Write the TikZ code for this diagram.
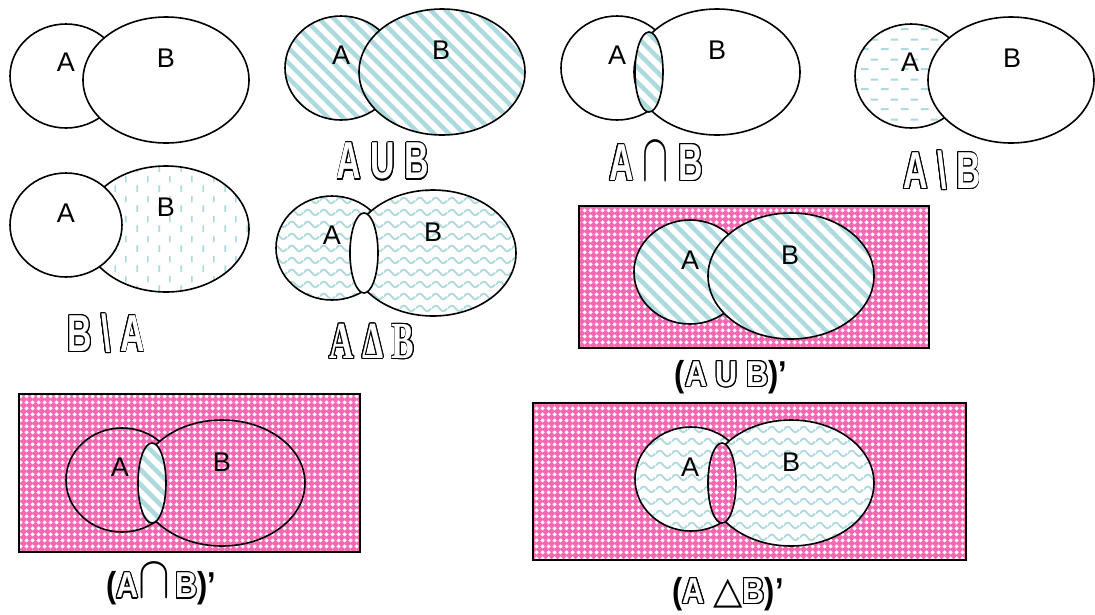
\documentclass[tikz,border=0pt]{standalone}
\usepackage{fontspec}
\setmainfont{Liberation Sans}
\newfontfamily\serifface{Liberation Serif}
\newfontfamily\symbface{DejaVu Sans}
\usepackage[copies]{contour}
\contourlength{1.3pt}
\usetikzlibrary{calc,patterns,patterns.meta}

\definecolor{mint}{RGB}{172,218,222}
\definecolor{rose}{RGB}{248,104,178}

\newcommand\archcap[2]{{\color{black}\scalebox{#1}[#2]{\fontsize{20}{20}\selectfont$\cap$}}}

% tiles
\pgfdeclarepattern{
  name=hdash,
  bottom left={\pgfpoint{0pt}{0pt}},
  top right={\pgfpoint{20pt}{20pt}},
  tile size={\pgfpoint{20pt}{20pt}},
  code={
    \pgfsetlinewidth{2pt}
    \pgfpathmoveto{\pgfpoint{1pt}{5pt}}\pgfpathlineto{\pgfpoint{9pt}{5pt}}
    \pgfpathmoveto{\pgfpoint{11pt}{15pt}}\pgfpathlineto{\pgfpoint{19pt}{15pt}}
    \pgfusepath{stroke}
  }
}
\pgfdeclarepattern{
  name=vdash,
  bottom left={\pgfpoint{0pt}{0pt}},
  top right={\pgfpoint{22pt}{20pt}},
  tile size={\pgfpoint{22pt}{20pt}},
  code={
    \pgfsetlinewidth{1.7pt}
    \pgfpathmoveto{\pgfpoint{5.5pt}{2pt}}\pgfpathlineto{\pgfpoint{5.5pt}{9pt}}
    \pgfpathmoveto{\pgfpoint{16.5pt}{12pt}}\pgfpathlineto{\pgfpoint{16.5pt}{19pt}}
    \pgfusepath{stroke}
  }
}
\pgfdeclarepattern{
  name=waves,
  bottom left={\pgfpoint{0pt}{0pt}},
  top right={\pgfpoint{16pt}{12pt}},
  tile size={\pgfpoint{16pt}{12pt}},
  code={
    \pgfsetlinewidth{1.9pt}
    \pgfpathmoveto{\pgfpoint{0pt}{6pt}}
    \pgfpathcurveto{\pgfpoint{2.7pt}{10pt}}{\pgfpoint{5.3pt}{10pt}}{\pgfpoint{8pt}{6pt}}
    \pgfpathcurveto{\pgfpoint{10.7pt}{2pt}}{\pgfpoint{13.3pt}{2pt}}{\pgfpoint{16pt}{6pt}}
    \pgfusepath{stroke}
  }
}
\pgfdeclarepattern{
  name=lattice,
  bottom left={\pgfpoint{0pt}{0pt}},
  top right={\pgfpoint{6pt}{6pt}},
  tile size={\pgfpoint{6pt}{6pt}},
  code={
    \pgfpathmoveto{\pgfpoint{3pt}{0.5pt}}
    \pgfpathlineto{\pgfpoint{5.5pt}{3pt}}
    \pgfpathlineto{\pgfpoint{3pt}{5.5pt}}
    \pgfpathlineto{\pgfpoint{0.5pt}{3pt}}
    \pgfpathclose
    \pgfusepath{fill}
  }
}

\begin{document}
\begin{tikzpicture}[x=1pt, y=-1pt,
    setA/.style={x radius=56, y radius=52},
    setB/.style={x radius=83, y radius=63},
    lens/.style={x radius=14, y radius=40},
    rim/.style={draw=black, line width=1.6},
    blank/.style={rim, fill=white},
    striped/.style={rim, preaction={fill=white}, pattern={Lines[angle=-45,distance=10.6pt,line width=4.5pt]}, pattern color=mint},
    hdashed/.style={rim, preaction={fill=white}, pattern=hdash, pattern color=mint},
    vdashed/.style={rim, preaction={fill=white}, pattern=vdash, pattern color=mint},
    wavy/.style={rim, preaction={fill=white}, pattern=waves, pattern color=mint},
    pinky/.style={rim, preaction={fill=rose}, pattern=lattice, pattern color=white},
    letter/.style={inner sep=0, font=\fontsize{27}{27}\selectfont},
    title/.style={inner sep=0, xscale=0.65, text=white, font=\bfseries\fontsize{52}{52}\selectfont},
    ctitle/.style={inner sep=0, xscale=0.85, text=white, font=\bfseries\fontsize{36}{36}\selectfont}]
    \useasboundingbox (0,0) rectangle (1095,614);
    % A, B
    \path[blank] (66,76) ellipse[setA];
    \path[blank] (166,80) ellipse[setB];
    \node[letter] (a1) at (66,62) {A};
    \node[letter] (b1) at (166,58) {B};
    % A union B
    \path[striped] (341,68) ellipse[setA];
    \path[striped] (442,72) ellipse[setB];
    \node[letter] (a2) at (341,55) {A};
    \node[letter] (b2) at (441,50) {B};
    \node[title] (t2) at (383,162) {\contour{black}{A U B}};
    % A cap B
    \path[blank] (617,68) ellipse[setA];
    \path[blank] (717,72) ellipse[setB];
    \path[striped] (649,72) ellipse[lens];
    \node[letter] (a3) at (617,55) {A};
    \node[letter] (b3) at (717,50) {B};
    \node[title] (t3) at (656,162) {\contour{black}{A} \archcap{2.9}{3.3} \contour{black}{B}};
    % A minus B
    \path[hdashed] (911,76) ellipse[setA];
    \path[blank] (1011,80) ellipse[setB];
    \node[letter] (a4) at (910,62) {A};
    \node[letter] (b4) at (1012,58) {B};
    \node[title] (t4) at (942,171) {\contour{black}{A \textbackslash\ B}};
    % B minus A
    \path[vdashed] (166,229) ellipse[setB];
    \path[blank] (66,225) ellipse[setA];
    \node[letter] (a5) at (66,213) {A};
    \node[letter] (b5) at (166,207) {B};
    \node[title] (t5) at (106,334) {\contour{black}{B \textbackslash\ A}};
    % symmetric difference
    \path[wavy] (332,248) ellipse[setA];
    \path[wavy] (433,253) ellipse[setB];
    \path[blank] (364,253) ellipse[lens];
    \node[letter] (a6) at (332,235) {A};
    \node[letter] (b6) at (433,232) {B};
    \node[title, font=\serifface\bfseries\fontsize{52}{52}\selectfont] (t6) at (372,342) {\contour{black}{A Δ B}};
    % complement of union
    \path[pinky] (579,206) rectangle (929,348);
    \path[striped] (690,272) ellipse[setA];
    \path[striped] (791,276) ellipse[setB];
    \node[letter] (a7) at (690,260) {A};
    \node[letter] (b7) at (790,255) {B};
    \node[ctitle] (t7) at (731,377) {{\color{black}(}\contour{black}{A U B}{\color{black})'}};
    % complement of intersection
    \path[pinky] (19,394) rectangle (360,552);
    \path[rim] (122,480) ellipse[setA];
    \path[pinky] (222,483) ellipse[setB];
    \path[striped] (152,483) ellipse[lens];
    \node[letter] (a8) at (120,467) {A};
    \node[letter] (b8) at (222,462) {B};
    \node[ctitle] (t8) at (161,585) {{\color{black}(}\contour{black}{A}\archcap{2.7}{2.9}\,\contour{black}{B}{\color{black})'}};
    % complement of symmetric difference
    \path[pinky] (533,403) rectangle (966,560);
    \path[wavy] (691,479) ellipse[setA];
    \path[wavy] (791,483) ellipse[setB];
    \path[pinky] (722,483) ellipse[lens];
    \node[letter] (a9) at (690,467) {A};
    \node[letter] (b9) at (791,462) {B};
    \node[ctitle] (t9) at (728,594) {{\color{black}(}\contour{black}{A} {\color{black}\scalebox{1.25}[1.05]{\symbface\mdseries △}}\contour{black}{B}{\color{black})'}};
\end{tikzpicture}
\end{document}
